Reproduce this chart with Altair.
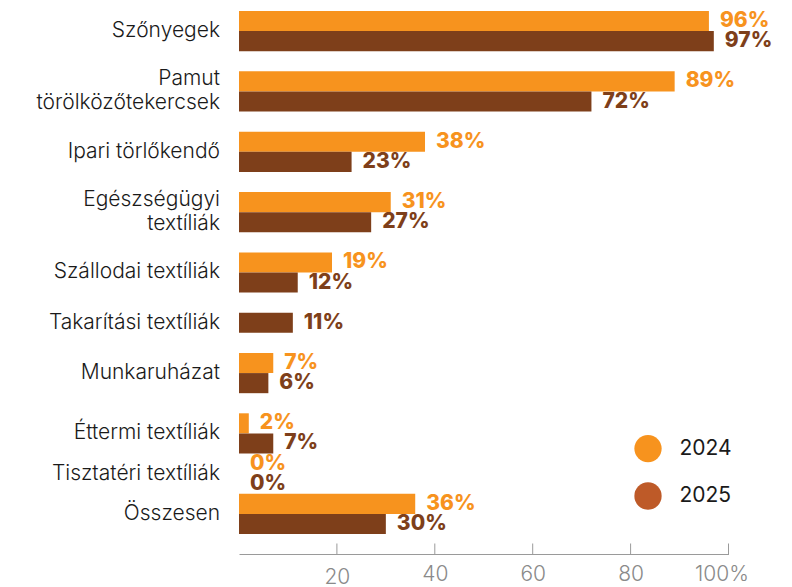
import altair as alt
import pandas as pd

categories = [
    "Szőnyegek",
    "Pamut|törölközőtekercsek",
    "Ipari törlőkendő",
    "Egészségügyi|textíliák",
    "Szállodai textíliák",
    "Takarítási textíliák",
    "Munkaruházat",
    "Éttermi textíliák",
    "Tisztatéri textíliák",
    "Összesen",
]
years = ["2024", "2025"]
values_2024 = [96, 89, 38, 31, 19, None, 7, 2, 0, 36]
values_2025 = [97, 72, 23, 27, 12, 11, 6, 7, 0, 30]
x_ticks = [0, 20, 40, 60, 80, 100]

ORANGE = "#F7931E"
BROWN = "#7E3F1A"
LEGEND_BROWN = "#BE5A28"
GREY = "#9a9a9a"
FONT = "Inter"

# ---- long table + slot domain (one slot per drawn bar, gaps between groups)
rows, slots, cats = [], [], []
prev_nonzero = None
for i, cat in enumerate(categories):
    vals = {"2024": values_2024[i], "2025": values_2025[i]}
    nonzero = any(v for v in vals.values() if v is not None)
    if i > 0 and prev_nonzero and nonzero:
        slots.append(f"gap{i}")
    own = []
    for y in years:
        v = vals[y]
        if v is not None:
            s = f"{cat}#{y}"
            slots.append(s)
            own.append(s)
            rows.append({"cat": cat, "year": y, "value": v, "slot": s})
    cats.append({"label": cat, "first": own[0], "n": len(own), "multi": "|" in cat})
    prev_nonzero = nonzero

df = pd.DataFrame(rows)
df_cat = pd.DataFrame(cats)
df_ticks = pd.DataFrame({"t": x_ticks[1:]})

W, H = 489.5, 545
yscale = alt.Scale(domain=slots, paddingInner=0, paddingOuter=0.547, align=0.091)
xscale = alt.Scale(domain=[0, 100], nice=False)
year_color = alt.condition("datum.year == '2024'", alt.value(ORANGE), alt.value(BROWN))

base = alt.Chart(df)

bars = base.mark_bar().encode(
    x=alt.X(
        "value:Q",
        scale=xscale,
        axis=alt.Axis(
            values=x_ticks,
            title=None,
            grid=False,
            ticks=False,
            labelFlush=False,
            domainColor=GREY,
            labelColor="#8a8a8a",
            labelFont=FONT,
            labelFontWeight=300,
            labelFontSize=21,
            labelExpr="datum.value == 0 ? '' : (datum.value == 100 ? '100%' : datum.label)",
            labelPadding={"condition": {"test": "datum.value == 20", "value": 12.5}, "value": 9},
            labelOffset={"condition": {"test": "datum.value == 100", "value": -7}, "value": 0},
        ),
    ),
    y=alt.Y(
        "slot:N",
        scale=yscale,
        axis=alt.Axis(labels=False, ticks=False, title=None, domainColor="#a8a8a8"),
    ),
    color=year_color,
)

value_labels = base.mark_text(
    align="left", baseline="middle", dx=11, font=FONT, fontWeight=800, fontSize=21
).transform_calculate(txt="datum.value + '%'").encode(
    x=alt.X("value:Q", scale=xscale),
    y=alt.Y("slot:N", scale=yscale),
    text="txt:N",
    color=year_color,
)


def cat_layer(filt, band, dy):
    return (
        alt.Chart(df_cat)
        .transform_calculate(lines="split(datum.label, '|')")
        .transform_filter(filt)
        .mark_text(
            align="right", baseline="middle", font=FONT, fontWeight=300, fontSize=21,
            lineHeight=24, color="#1a1a1a", dy=dy,
        )
        .encode(
            x=alt.value(-19),
            y=alt.Y("first:N", scale=yscale, bandPosition=band, axis=None),
            text="lines:N",
        )
    )


cat_two = cat_layer("datum.n == 2 && !datum.multi", 1, 0)
cat_multi = cat_layer("datum.n == 2 && datum.multi", 1, -12)
cat_one = cat_layer("datum.n == 1", 0.5, 0)

ticks = alt.Chart(df_ticks).mark_rule(color=GREY, strokeWidth=1).encode(
    x=alt.X("t:Q", scale=xscale),
    y=alt.value(H - 10.5),
    y2=alt.value(H),
)

# legend (its circles use a lighter brown than the bars, as in the reference)
legend_layer = base.mark_point(filled=True, shape="circle").encode(
    x=alt.X("value:Q", scale=xscale),
    y=alt.Y("slot:N", scale=yscale),
    opacity=alt.value(0),
    fill=alt.Fill(
        "year:N",
        scale=alt.Scale(domain=years, range=[ORANGE, LEGEND_BROWN]),
        legend=alt.Legend(
            title=None,
            orient="none",
            legendX=395,
            legendY=425.6,
            padding=0,
            symbolType="circle",
            symbolSize=745,
            symbolStrokeWidth=0,
            symbolOpacity=1,
            rowPadding=19.4,
            labelOffset=17.5,
            labelFont=FONT,
            labelFontWeight=400,
            labelFontSize=21,
            labelColor="#1a1a1a",
        ),
    ),
)

chart = alt.layer(bars, value_labels, cat_two, cat_multi, cat_one, ticks, legend_layer).properties(
    width=W,
    height=H,
    padding={"left": 231, "top": 1, "right": 55, "bottom": 32},
    autosize=alt.AutoSizeParams(type="none"),
).configure_view(stroke=None)

chart.save("out.html", embed_options={"renderer": "svg", "actions": False})
